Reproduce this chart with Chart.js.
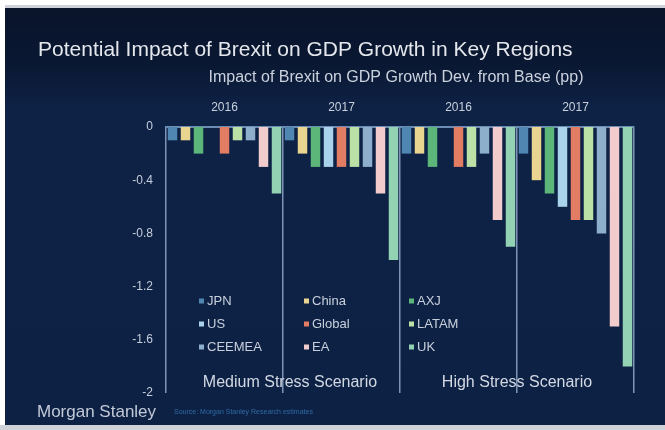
<!DOCTYPE html>
<html>
<head>
<meta charset="utf-8">
<title>Potential Impact of Brexit on GDP Growth in Key Regions</title>
<script src="https://cdn.jsdelivr.net/npm/chart.js@4.4.1/dist/chart.umd.min.js"></script>
<style>
    html, body { margin: 0; padding: 0; background: #ffffff; }
    #brexitChart { display: block; }
</style>
</head>
<body>
<canvas id="brexitChart" width="665" height="430"></canvas>
<script>
// categories along the top axis
var years = ['2016', '2017', '2016', '2017'];
var scenarios = ['Medium Stress Scenario', 'High Stress Scenario'];
var yTicks = [0, -0.4, -0.8, -1.2, -1.6, -2];

// impact on GDP growth, dev. from base (pp), one array per region
var regions = ['JPN', 'China', 'AXJ', 'US', 'Global', 'LATAM', 'CEEMEA', 'EA', 'UK'];
var jpn    = [-0.1, -0.1, -0.2, -0.2];
var china  = [-0.1, -0.2, -0.2, -0.4];
var axj    = [-0.2, -0.3, -0.3, -0.5];
var us     = [0, -0.3, 0, -0.6];
var global = [-0.2, -0.3, -0.3, -0.7];
var latam  = [-0.1, -0.3, -0.3, -0.7];
var ceemea = [-0.1, -0.3, -0.2, -0.8];
var ea     = [-0.3, -0.5, -0.7, -1.5];
var uk     = [-0.5, -1.0, -0.9, -1.8];

var regionValues = [jpn, china, axj, us, global, latam, ceemea, ea, uk];
var regionColors = ['#4f86b2', '#e9d58f', '#5db679', '#a9d3ea', '#e27c62',
                    '#bbe1a6', '#8eafcc', '#f2cccc', '#93d2b3'];

var FONT = '"Liberation Sans", Arial, sans-serif';

// navy slide background with the white scan edges
var backgroundPlugin = {
    id: 'slideBackground',
    beforeDraw: function (chart) {
        var ctx = chart.ctx;
        ctx.save();
        ctx.fillStyle = '#ffffff';
        ctx.fillRect(0, 0, chart.width, chart.height);
        ctx.fillStyle = '#cfd2d8';
        ctx.fillRect(0, 425, chart.width, chart.height - 425);
        ctx.fillRect(5, 5, chart.width - 5, 3);
        var grad = ctx.createLinearGradient(0, 8, 0, 425);
        grad.addColorStop(0, '#09132a');
        grad.addColorStop(0.14, '#0a1833');
        grad.addColorStop(0.24, '#0e2246');
        grad.addColorStop(1, '#0d2145');
        ctx.fillStyle = grad;
        ctx.fillRect(5, 8, chart.width - 5, 417);
        ctx.restore();
    }
};

// title, subtitle, legend grid, scenario names and footer
var textPlugin = {
    id: 'slideText',
    afterDraw: function (chart) {
        var ctx = chart.ctx;
        var xScale = chart.scales.x;
        ctx.save();

        ctx.textBaseline = 'middle';
        ctx.textAlign = 'left';
        ctx.fillStyle = '#e4e7ec';
        ctx.font = '21px ' + FONT;
        ctx.fillText('Potential Impact of Brexit on GDP Growth in Key Regions', 38, 50);

        ctx.textAlign = 'center';
        ctx.fillStyle = '#cbd2de';
        ctx.font = '16px ' + FONT;
        ctx.fillText('Impact of Brexit on GDP Growth Dev. from Base (pp)', 396, 78);

        // legend: 3 columns, filled row by row
        var colX = [199, 304, 409];
        var rowY = [301, 324, 347];
        ctx.font = '13px ' + FONT;
        ctx.textAlign = 'left';
        for (var i = 0; i < regions.length; i++) {
            var cx = colX[i % 3];
            var cy = rowY[Math.floor(i / 3)];
            ctx.fillStyle = regionColors[i];
            ctx.fillRect(cx, cy - 2.5, 5, 5);
            ctx.fillStyle = '#c9d0dc';
            ctx.fillText(regions[i], cx + 8, cy);
        }

        // scenario names under each pair of years
        ctx.font = '16px ' + FONT;
        ctx.textAlign = 'center';
        ctx.fillStyle = '#d3d9e3';
        var offsets = [7, 0];
        for (var s = 0; s < scenarios.length; s++) {
            var mid = (xScale.getPixelForValue(s * 2) + xScale.getPixelForValue(s * 2 + 1)) / 2;
            ctx.fillText(scenarios[s], mid + offsets[s], 383);
        }

        // footer
        ctx.textAlign = 'left';
        ctx.font = '17px ' + FONT;
        ctx.fillStyle = '#c3cad7';
        ctx.fillText('Morgan Stanley', 37, 412);
        ctx.font = '7px ' + FONT;
        ctx.fillStyle = '#2f6aa3';
        ctx.fillText('Source: Morgan Stanley Research estimates', 174, 412);

        ctx.restore();
    }
};

var datasets = [];
for (var i = 0; i < regions.length; i++) {
    datasets.push({
        label: regions[i],
        data: regionValues[i],
        backgroundColor: regionColors[i],
        borderWidth: 0,
        barPercentage: 0.73,
        categoryPercentage: 1.0
    });
}

var ctx = document.getElementById('brexitChart');
var brexitChart = new Chart(ctx, {
    type: 'bar',
    data: {
        labels: years,
        datasets: datasets
    },
    options: {
        responsive: false,
        animation: false,
        layout: {
            padding: { top: 95, left: 0, right: 31, bottom: 37 }
        },
        plugins: {
            legend: { display: false },
            title: { display: false },
            tooltip: { enabled: false }
        },
        scales: {
            x: {
                position: 'top',
                offset: true,
                afterFit: function (scale) { scale.height = 32; },
                grid: {
                    display: true,
                    offset: true,
                    drawTicks: false,
                    color: '#7f93b6',
                    lineWidth: 1.5
                },
                border: { display: true, color: '#6d8cb4', width: 2 },
                ticks: {
                    color: '#c9d0dc',
                    padding: 12,
                    font: { family: FONT, size: 12 }
                }
            },
            y: {
                min: -2,
                max: 0,
                afterFit: function (scale) { scale.width = 166; },
                afterBuildTicks: function (scale) {
                    scale.ticks = yTicks.map(function (v) { return { value: v }; });
                },
                grid: { display: false, drawTicks: false },
                border: { display: false },
                ticks: {
                    color: '#c6cedb',
                    padding: 13,
                    font: { family: FONT, size: 12 },
                    callback: function (value) { return String(Math.round(value * 10) / 10); }
                }
            }
        }
    },
    plugins: [backgroundPlugin, textPlugin]
});
</script>
</body>
</html>
